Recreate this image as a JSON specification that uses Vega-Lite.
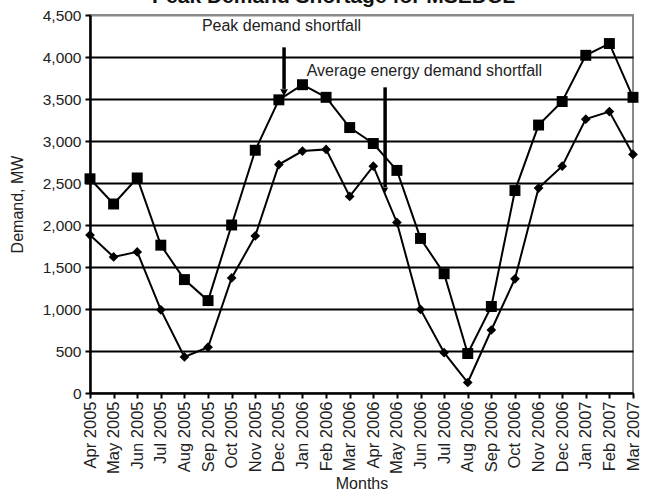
{
  "$schema": "https://vega.github.io/schema/vega-lite/v6.json",
  "autosize": {"type": "none"},
  "padding": {"left": 90, "top": 15, "right": 14, "bottom": 101},
  "width": 543,
  "height": 378,
  "background": "white",
  "title": {
    "text": "Peak Demand Shortage for MSEDCL",
    "font": "Liberation Sans",
    "fontSize": 21,
    "fontWeight": "bold",
    "color": "#111",
    "anchor": "middle",
    "frame": "group",
    "dx": -28,
    "offset": 0,
    "dy": 16,
    "baseline": "alphabetic"
  },
  "config": {
    "view": {"stroke": "#8a8a8a", "strokeWidth": 2},
    "font": "Liberation Sans"
  },
  "datasets": {
    "shortfall": [
      {"month": "Apr 2005", "m": 0, "peak": 2550, "avg": 1880},
      {"month": "May 2005", "m": 1, "peak": 2250, "avg": 1620},
      {"month": "Jun 2005", "m": 2, "peak": 2560, "avg": 1680},
      {"month": "Jul 2005", "m": 3, "peak": 1760, "avg": 990},
      {"month": "Aug 2005", "m": 4, "peak": 1350, "avg": 430},
      {"month": "Sep 2005", "m": 5, "peak": 1100, "avg": 545},
      {"month": "Oct 2005", "m": 6, "peak": 2000, "avg": 1370},
      {"month": "Nov 2005", "m": 7, "peak": 2890, "avg": 1870},
      {"month": "Dec 2005", "m": 8, "peak": 3490, "avg": 2720},
      {"month": "Jan 2006", "m": 9, "peak": 3670, "avg": 2880},
      {"month": "Feb 2006", "m": 10, "peak": 3520, "avg": 2900},
      {"month": "Mar 2006", "m": 11, "peak": 3160, "avg": 2340},
      {"month": "Apr 2006", "m": 12, "peak": 2970, "avg": 2700},
      {"month": "May 2006", "m": 13, "peak": 2650, "avg": 2030},
      {"month": "Jun 2006", "m": 14, "peak": 1840, "avg": 995},
      {"month": "Jul 2006", "m": 15, "peak": 1420, "avg": 480},
      {"month": "Aug 2006", "m": 16, "peak": 470, "avg": 125},
      {"month": "Sep 2006", "m": 17, "peak": 1030, "avg": 750},
      {"month": "Oct 2006", "m": 18, "peak": 2410, "avg": 1360},
      {"month": "Nov 2006", "m": 19, "peak": 3190, "avg": 2440},
      {"month": "Dec 2006", "m": 20, "peak": 3470, "avg": 2700},
      {"month": "Jan 2007", "m": 21, "peak": 4020, "avg": 3260},
      {"month": "Feb 2007", "m": 22, "peak": 4160, "avg": 3350},
      {"month": "Mar 2007", "m": 23, "peak": 3520, "avg": 2840}
    ],
    "notes": [
      {"label": "Peak demand shortfall", "tx": 4.74, "ty": 4369, "ax": 8.22, "ay1": 4115, "ay2": 3620, "hy": 3575, "hs": 60},
      {"label": "Average energy demand shortfall", "tx": 9.18, "ty": 3837, "ax": 12.5, "ay1": 3639, "ay2": 2450, "hy": 2415, "hs": 40}
    ]
  },
  "encoding": {
    "x": {
      "field": "m",
      "type": "quantitative",
      "scale": {"domain": [0, 23], "nice": false, "zero": false},
      "axis": {
        "title": "Months",
        "titleFont": "Liberation Sans",
        "titleFontSize": 16,
        "titleFontWeight": "normal",
        "titleColor": "#222",
        "titlePadding": 2,
        "values": [0,1,2,3,4,5,6,7,8,9,10,11,12,13,14,15,16,17,18,19,20,21,22,23],
        "labelExpr": "timeFormat(datetime(2005, 3 + datum.value, 1), '%b %Y')",
        "labelAngle": 270,
        "labelFontSize": 16.5,
        "labelColor": "#222",
        "labelPadding": 3,
        "labelOverlap": false,
        "labelFlush": false,
        "labelBound": false,
        "domainColor": "black",
        "domainWidth": 2,
        "tickColor": "black",
        "tickWidth": 2,
        "tickSize": 5,
        "grid": false
      }
    }
  },
  "layer": [
    {
      "data": {"name": "shortfall"},
      "mark": {"type": "line", "color": "black", "strokeWidth": 2, "point": {"shape": "square", "filled": true, "size": 120, "color": "black"}},
      "encoding": {
        "y": {
          "field": "peak",
          "type": "quantitative",
          "scale": {"domain": [0, 4500], "nice": false},
          "axis": {
            "title": "Demand, MW",
            "titleFont": "Liberation Sans",
            "titleFontSize": 16,
            "titleFontWeight": "normal",
            "titleColor": "#222",
            "titlePadding": 17,
            "values": [0, 500, 1000, 1500, 2000, 2500, 3000, 3500, 4000, 4500],
            "format": ",.0f",
            "labelFontSize": 15.5,
            "labelColor": "#222",
            "labelPadding": 4,
            "labelFlush": false,
            "labelBound": false,
            "domainColor": "black",
            "domainWidth": 2.5,
            "tickColor": "black",
            "tickWidth": 2,
            "tickSize": 5,
            "grid": true,
            "gridColor": {"condition": {"test": "datum.value >= 4500", "value": "#8a8a8a"}, "value": "black"},
            "gridWidth": 2,
            "gridOpacity": 1
          }
        }
      }
    },
    {
      "data": {"name": "shortfall"},
      "mark": {"type": "line", "color": "black", "strokeWidth": 2, "point": {"shape": "diamond", "filled": true, "size": 95, "color": "black"}},
      "encoding": {
        "y": {"field": "avg", "type": "quantitative"}
      }
    },
    {
      "data": {"name": "notes"},
      "mark": {"type": "rule", "color": "black", "strokeWidth": 3.5},
      "encoding": {
        "x": {"field": "ax", "type": "quantitative"},
        "y": {"field": "ay1", "type": "quantitative"},
        "y2": {"field": "ay2"}
      }
    },
    {
      "data": {"name": "notes"},
      "mark": {"type": "point", "shape": "triangle-down", "filled": true, "color": "black", "opacity": 1},
      "encoding": {
        "x": {"field": "ax", "type": "quantitative"},
        "y": {"field": "hy", "type": "quantitative"},
        "size": {"field": "hs", "type": "quantitative", "scale": null}
      }
    },
    {
      "data": {"name": "notes"},
      "mark": {"type": "text", "align": "left", "baseline": "middle", "fontSize": 16, "font": "Liberation Sans", "color": "#222"},
      "encoding": {
        "x": {"field": "tx", "type": "quantitative"},
        "y": {"field": "ty", "type": "quantitative"},
        "text": {"field": "label"}
      }
    }
  ]
}
